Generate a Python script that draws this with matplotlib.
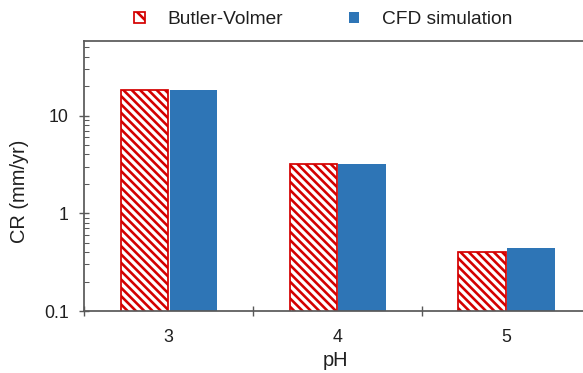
import matplotlib
matplotlib.use("Agg")
import matplotlib.pyplot as plt
from matplotlib.patches import Patch
from matplotlib.ticker import FixedLocator, FixedFormatter, LogLocator, NullFormatter

# Corrosion rate by pH
ph_labels = ["3", "4", "5"]
butler_volmer = [18.4, 3.22, 0.406]
cfd_simulation = [18.4, 3.18, 0.44]
y_ticks = [0.1, 1, 10]
y_tick_labels = ["0.1", "1", "10"]

RED = "#D40000"
BLUE = "#2E75B6"
SPINE = "#595959"
TEXT = "#1F1F1F"
HATCH = "\\" * 5

DPI = 125
plt.rcParams["font.family"] = ["Liberation Sans", "DejaVu Sans"]
plt.rcParams["hatch.linewidth"] = 1.5
plt.rcParams["hatch.color"] = RED

fig = plt.figure(figsize=(583 / DPI, 373 / DPI), dpi=DPI)
left_px, right_px, top_px, bottom_px = 84.3, 591.0, 41.0, 311.0
ax = fig.add_axes([left_px / 583, 1 - bottom_px / 373,
                   (right_px - left_px) / 583, (bottom_px - top_px) / 373])

x = list(range(1, len(ph_labels) + 1))
width = 0.28
offset = 0.145
ax.bar([v - offset for v in x], butler_volmer, width=width, color="white",
       edgecolor=RED, linewidth=1.0, hatch=HATCH, log=True, zorder=2)
ax.bar([v + offset for v in x], cfd_simulation, width=width, color=BLUE,
       edgecolor="none", log=True, zorder=2)

ax.set_yscale("log")
ax.set_ylim(0.1, 58)
ax.set_xlim(0.5, len(ph_labels) + 0.5)

# y axis: decades labelled, minor ticks inside
ax.yaxis.set_major_locator(FixedLocator(y_ticks))
ax.yaxis.set_major_formatter(FixedFormatter(y_tick_labels))
ax.yaxis.set_minor_locator(LogLocator(base=10, subs=range(2, 10)))
ax.yaxis.set_minor_formatter(NullFormatter())
ax.tick_params(axis="y", which="major", direction="inout", length=6,
               width=0.8, color=SPINE, labelsize=10.2, labelcolor=TEXT, pad=6)
ax.tick_params(axis="y", which="minor", direction="in", length=2.9,
               width=0.6, color=SPINE)

# x axis: ticks between categories, labels at category centres
ax.xaxis.set_major_locator(FixedLocator([v + 0.5 for v in range(0, len(ph_labels) + 1)]))
ax.xaxis.set_major_formatter(NullFormatter())
ax.xaxis.set_minor_locator(FixedLocator(x))
ax.xaxis.set_minor_formatter(FixedFormatter(ph_labels))
ax.tick_params(axis="x", which="major", direction="inout", length=5.8,
               width=0.8, color=SPINE)
ax.tick_params(axis="x", which="minor", length=0, labelsize=10.2,
               labelcolor=TEXT, pad=10.5)

for side in ["left", "bottom", "top", "right"]:
    ax.spines[side].set_color(SPINE)
    ax.spines[side].set_linewidth(1.0)

ax.set_xlabel("pH", fontsize=11.5, color=TEXT)
ax.xaxis.label.set_va("center")
ax.xaxis.set_label_coords((335 - left_px) / (right_px - left_px),
                          (bottom_px - 361) / (bottom_px - top_px))
ax.set_ylabel("CR (mm/yr)", fontsize=11.5, color=TEXT)
ax.yaxis.label.set_va("center")
ax.yaxis.set_label_coords((20 - left_px) / (right_px - left_px),
                          (bottom_px - 191) / (bottom_px - top_px))

handles = [Patch(facecolor="white", edgecolor=RED, hatch="\\\\", linewidth=1.0),
           Patch(facecolor=BLUE, edgecolor="none")]
fig.legend(handles, ["Butler-Volmer", "CFD simulation"], ncol=2,
           loc="center left", bbox_to_anchor=(134 / 583, 1 - 20 / 373),
           frameon=False, fontsize=11, handlelength=0.55, handleheight=0.55,
           handletextpad=1.2, columnspacing=3.45, borderpad=0, borderaxespad=0,
           labelcolor=TEXT)

fig.savefig("out.png", dpi=DPI)
